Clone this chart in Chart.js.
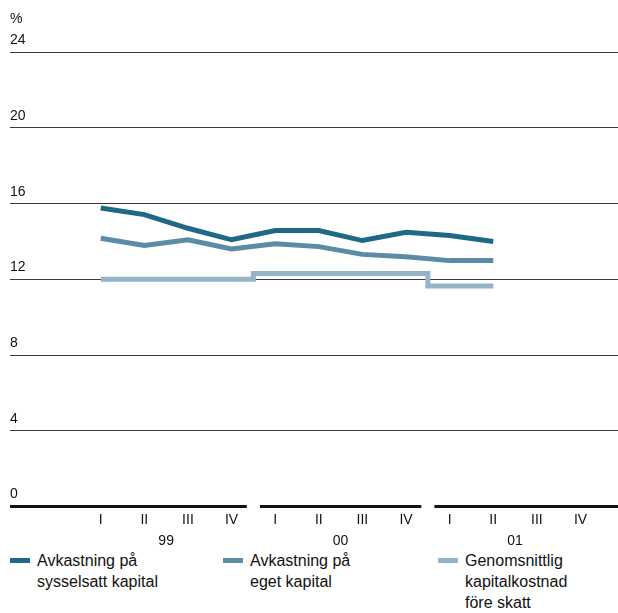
<!DOCTYPE html>
<html>
<head>
<meta charset="utf-8">
<script src="https://cdn.jsdelivr.net/npm/chart.js@4.4.1/dist/chart.umd.min.js"></script>
<style>
body { margin: 0; background: #fff; font-family: 'Liberation Sans', Arial, sans-serif; }
#wrap { position: relative; width: 618px; height: 613px; overflow: hidden; }
#chart { position: absolute; left: 0; top: 0; }
.leg { position: absolute; top: 550px; font-size: 16px; line-height: 21px; color: #111; }
.leg i { position: absolute; left: -27px; top: 8px; width: 20px; height: 5px; }
</style>
</head>
<body>
<div id="wrap">
  <canvas id="chart" width="618" height="550"></canvas>
  <div class="leg" style="left:37px"><i style="background:#1f6886"></i>Avkastning på<br>sysselsatt kapital</div>
  <div class="leg" style="left:250px"><i style="background:#5b8ba6"></i>Avkastning på<br>eget kapital</div>
  <div class="leg" style="left:465px"><i style="background:#93b4c9"></i>Genomsnittlig<br>kapitalkostnad<br>före skatt</div>
</div>
<script>
// Quarters 99 I .. 01 IV
const quarterLabels = ['I', 'II', 'III', 'IV', 'I', 'II', 'III', 'IV', 'I', 'II', 'III', 'IV'];
const years = ['99', '00', '01'];
const yearCenters = [1.5, 5.5, 9.5];

// Values in %
const sysselsattKapital = [15.77, 15.42, 14.7, 14.09, 14.58, 14.58, 14.05, 14.49, 14.32, 14.0];
const egetKapital = [14.17, 13.79, 14.09, 13.61, 13.88, 13.73, 13.32, 13.2, 12.99, 12.99];
const kapitalkostnad = [12.0, 12.0, 12.0, 12.0, 12.31, 12.31, 12.31, 12.31, 11.65, 11.65];

// x range and the three pieces of the broken base line (one per year)
const xMin = -2.08;
const xMax = 11.86;
const baseSegments = [[-2.08, 3.35], [3.65, 7.35], [7.65, 11.86]];

const toPoints = arr => arr.map((v, i) => ({ x: i, y: v }));

const datasets = [
    {
        label: 'Genomsnittlig kapitalkostnad före skatt',
        data: toPoints(kapitalkostnad),
        borderColor: '#93b4c9',
        borderWidth: 5,
        stepped: 'middle',
        pointRadius: 0
    },
    {
        label: 'Avkastning på eget kapital',
        data: toPoints(egetKapital),
        borderColor: '#5b8ba6',
        borderWidth: 5,
        pointRadius: 0
    },
    {
        label: 'Avkastning på sysselsatt kapital',
        data: toPoints(sysselsattKapital),
        borderColor: '#1f6886',
        borderWidth: 5,
        pointRadius: 0
    }
];

baseSegments.forEach(seg => {
    datasets.push({
        label: 'base',
        data: [{ x: seg[0], y: 0 }, { x: seg[1], y: 0 }],
        borderColor: '#111',
        borderWidth: 3,
        pointRadius: 0,
        clip: false
    });
});

const ctx = document.getElementById('chart').getContext('2d');
const chart = new Chart(ctx, {
    type: 'line',
    data: { datasets: datasets },
    options: {
        responsive: false,
        animation: false,
        layout: { padding: { left: 10, right: 0, top: 0, bottom: 0 } },
        plugins: {
            legend: { display: false },
            tooltip: { enabled: false },
            title: {
                display: true,
                text: '%',
                align: 'start',
                color: '#111',
                font: { family: 'Liberation Sans', size: 14, weight: 'normal' },
                padding: { top: 11, bottom: 24.5 }
            }
        },
        scales: {
            y: {
                min: 0,
                max: 24,
                border: { display: false },
                grid: {
                    drawTicks: false,
                    lineWidth: 1,
                    color: function (c) {
                        return c.tick && c.tick.value === 0 ? 'rgba(0,0,0,0)' : '#3a3a3a';
                    }
                },
                ticks: {
                    stepSize: 4,
                    mirror: true,
                    padding: 0,
                    labelOffset: -12,
                    color: '#111',
                    font: { family: 'Liberation Sans', size: 14 }
                }
            },
            x: {
                type: 'linear',
                min: xMin,
                max: xMax,
                border: { display: false },
                grid: { display: false, drawTicks: false },
                afterBuildTicks: function (scale) {
                    scale.ticks = quarterLabels.map((q, i) => ({ value: i }));
                },
                ticks: {
                    autoSkip: false,
                    maxRotation: 0,
                    padding: 5,
                    color: '#111',
                    font: { family: 'Liberation Sans', size: 14 },
                    callback: function (value) {
                        return quarterLabels[value];
                    }
                }
            },
            x2: {
                type: 'linear',
                position: 'bottom',
                min: xMin,
                max: xMax,
                border: { display: false },
                grid: { display: false, drawTicks: false },
                afterBuildTicks: function (scale) {
                    scale.ticks = yearCenters.map(v => ({ value: v }));
                },
                ticks: {
                    autoSkip: false,
                    maxRotation: 0,
                    padding: 0,
                    color: '#111',
                    font: { family: 'Liberation Sans', size: 14 },
                    callback: function (value) {
                        return years[yearCenters.indexOf(value)];
                    }
                }
            }
        }
    }
});
</script>
</body>
</html>
